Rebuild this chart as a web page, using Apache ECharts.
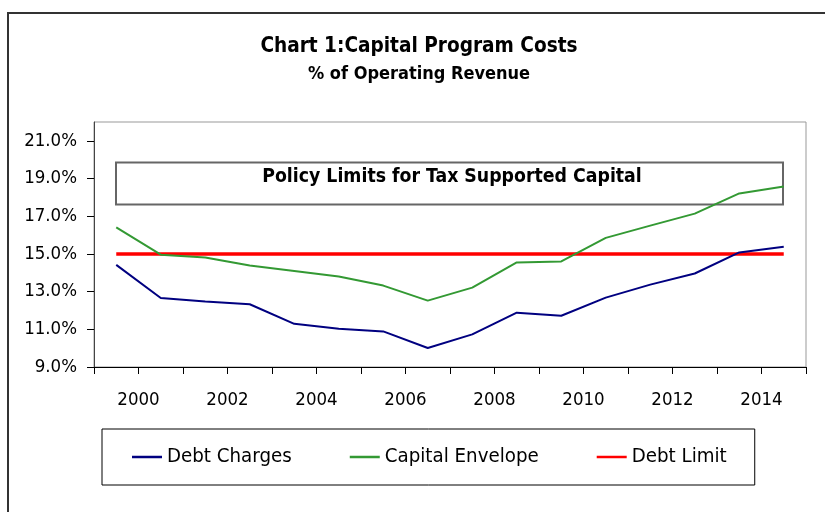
<!DOCTYPE html>
<html>
<head>
<meta charset="utf-8">
<script src="https://cdn.jsdelivr.net/npm/echarts@6/dist/echarts.min.js"></script>
<style>
html,body{margin:0;padding:0;background:#fff;}
#chart{width:825px;height:512px;}
</style>
</head>
<body>
<div id="chart"></div>
<script>
// ---- data ----
var years = [1999, 2000, 2001, 2002, 2003, 2004, 2005, 2006, 2007, 2008, 2009, 2010, 2011, 2012, 2013, 2014];
var debtCharges = [14.42, 12.66, 12.47, 12.33, 11.29, 11.03, 10.89, 10.01, 10.73, 11.88, 11.72, 12.68, 13.37, 13.96, 15.08, 15.38];
var capitalEnvelope = [16.41, 14.96, 14.81, 14.39, 14.10, 13.80, 13.32, 12.52, 13.21, 14.55, 14.60, 15.85, 16.50, 17.14, 18.21, 18.58];
var debtLimit = [15, 15, 15, 15, 15, 15, 15, 15, 15, 15, 15, 15, 15, 15, 15, 15];
var xTickYears = [1999, 2000, 2001, 2002, 2003, 2004, 2005, 2006, 2007, 2008, 2009, 2010, 2011, 2012, 2013, 2014, 2015];
var xLabelYears = [2000, 2002, 2004, 2006, 2008, 2010, 2012, 2014];
var yTicks = [9, 11, 13, 15, 17, 19, 21];
var seriesNames = ['Debt Charges', 'Capital Envelope', 'Debt Limit'];
var titleText = 'Chart 1:Capital Program Costs';
var subtitleText = '% of Operating Revenue';
var boxText = 'Policy Limits for Tax Supported Capital';

// each fiscal year is plotted at the middle of its year band
function pairs(vals) {
  return years.map(function (y, i) { return [y + 0.5, vals[i]]; });
}

var FONT = '"DejaVu Sans Condensed", "Liberation Sans Narrow", "DejaVu Sans", sans-serif';
var chart = echarts.init(document.getElementById('chart'), null, {renderer: 'canvas'});

var option = {
  backgroundColor: '#fff',
  animation: false,
  textStyle: {fontFamily: FONT},
  title: {
    text: titleText,
    subtext: subtitleText,
    left: 414,
    top: 31,
    textAlign: 'center',
    itemGap: 8,
    textStyle: {fontFamily: FONT, fontSize: 20.6, fontWeight: 'bold', color: '#000'},
    subtextStyle: {fontFamily: FONT, fontSize: 18, fontWeight: 'bold', color: '#000'}
  },
  grid: {
    left: 94, top: 122, right: 19, bottom: 145,
    show: true, borderColor: '#999', borderWidth: 1, backgroundColor: '#fff'
  },
  xAxis: {
    type: 'value',
    min: 1999, max: 2015,
    axisLine: {show: true, lineStyle: {color: '#000', width: 1}},
    axisTick: {show: true, length: 7, inside: false, customValues: xTickYears, lineStyle: {color: '#000'}},
    axisLabel: {customValues: xLabelYears, fontFamily: FONT, fontSize: 18.5, color: '#000', margin: 24,
      formatter: function (v) { return String(v); }},
    splitLine: {show: false}
  },
  yAxis: {
    type: 'value',
    min: 9, max: 22,
    axisLine: {show: true, lineStyle: {color: '#444', width: 1}},
    axisTick: {show: true, length: 7, customValues: yTicks, lineStyle: {color: '#000'}},
    axisLabel: {customValues: yTicks, fontFamily: FONT, fontSize: 18.5, color: '#000', margin: 17,
      formatter: function (v) { return v.toFixed(1) + '%'; }},
    splitLine: {show: false}
  },
  legend: {
    data: seriesNames,
    left: 102, top: 429,
    orient: 'horizontal',
    borderColor: '#000', borderWidth: 1,
    padding: [18, 28, 18, 30],
    itemGap: 58,
    icon: 'rect',
    itemWidth: 30, itemHeight: 2.5,
    textStyle: {fontFamily: FONT, fontSize: 20.3, color: '#000'}
  },
  graphic: [
    {
      type: 'rect', silent: true, z: -10,
      shape: {x: 8, y: 13, width: 900, height: 600},
      style: {fill: 'none', stroke: '#333', lineWidth: 2}
    },
    {
      type: 'rect', silent: true, z: 1,
      shape: {x: 116, y: 162.5, width: 667, height: 42},
      style: {fill: 'none', stroke: '#666', lineWidth: 2}
    },
    {
      type: 'text', silent: true, z: 1,
      x: 452, y: 177,
      style: {text: boxText, fontFamily: FONT, fontSize: 19.3, fontWeight: 'bold', fill: '#000',
        align: 'center', verticalAlign: 'middle'}
    }
  ],
  series: [
    {
      name: seriesNames[0], type: 'line', data: pairs(debtCharges),
      symbol: 'none', lineStyle: {color: '#000080', width: 2}, itemStyle: {color: '#000080'}, z: 3
    },
    {
      name: seriesNames[1], type: 'line', data: pairs(capitalEnvelope),
      symbol: 'none', lineStyle: {color: '#339933', width: 2}, itemStyle: {color: '#339933'}, z: 3
    },
    {
      name: seriesNames[2], type: 'line', data: pairs(debtLimit),
      symbol: 'none', lineStyle: {color: '#ff0000', width: 3.5}, itemStyle: {color: '#ff0000'}, z: 2
    }
  ]
};
chart.setOption(option);
</script>
</body>
</html>
